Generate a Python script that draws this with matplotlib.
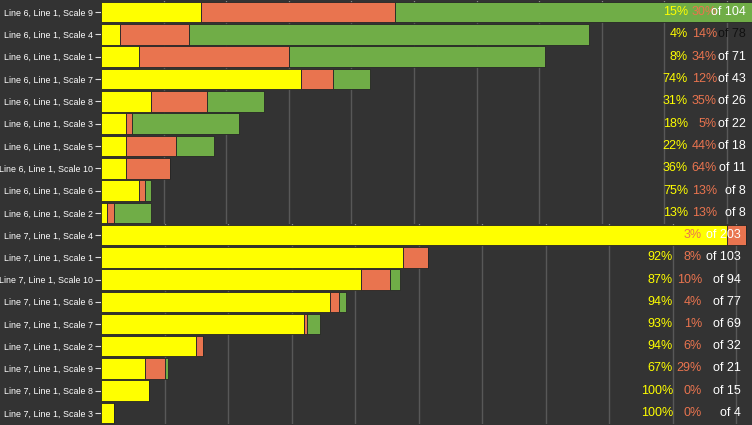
import matplotlib
matplotlib.use("Agg")
import matplotlib.pyplot as plt
import matplotlib.transforms as mtransforms

plt.rcParams['font.family'] = ['Liberation Sans', 'DejaVu Sans']

# Line 6 group
top_labels = ["Line 6, Line 1, Scale 9", "Line 6, Line 1, Scale 4", "Line 6, Line 1, Scale 1",
              "Line 6, Line 1, Scale 7", "Line 6, Line 1, Scale 8", "Line 6, Line 1, Scale 3",
              "Line 6, Line 1, Scale 5", "Line 6, Line 1, Scale 10", "Line 6, Line 1, Scale 6",
              "Line 6, Line 1, Scale 2"]
top_yellow = [16, 3, 6, 32, 8, 4, 4, 4, 6, 1]
top_orange = [31, 11, 24, 5, 9, 1, 8, 7, 1, 1]
top_green = [57, 64, 41, 6, 9, 17, 6, 0, 1, 6]

# Line 7 group
bot_labels = ["Line 7, Line 1, Scale 4", "Line 7, Line 1, Scale 1", "Line 7, Line 1, Scale 10",
              "Line 7, Line 1, Scale 6", "Line 7, Line 1, Scale 7", "Line 7, Line 1, Scale 2",
              "Line 7, Line 1, Scale 9", "Line 7, Line 1, Scale 8", "Line 7, Line 1, Scale 3"]
bot_yellow = [197, 95, 82, 72, 64, 30, 14, 15, 4]
bot_orange = [6, 8, 9, 3, 1, 2, 6, 0, 0]
bot_green = [0, 0, 3, 2, 4, 0, 1, 0, 0]

BG = '#333333'
YEL = '#ffff00'
ORA = '#e9744f'
GRN = '#70ad47'


def pct(v, t):
    return "%d%%" % int(100.0 * v / t + 0.5)


def draw_group(ax, labels, yel, ora, grn, xmax, step, cols, of_colors):
    ax.set_facecolor(BG)
    y = list(range(len(labels)))
    tot = [a + b + c for a, b, c in zip(yel, ora, grn)]
    left2 = [a + b for a, b in zip(yel, ora)]
    kw = dict(height=0.92, edgecolor='#262626', linewidth=0.6, zorder=2)
    ax.barh(y, yel, color=YEL, **kw)
    ax.barh(y, ora, left=yel, color=ORA, **kw)
    ax.barh(y, grn, left=left2, color=GRN, **kw)

    ax.set_xlim(0, xmax)
    ax.set_ylim(len(labels) - 0.5, -0.5)
    ax.set_xticks(range(step, int(xmax) + 1, step))
    ax.xaxis.tick_top()
    ax.tick_params(axis='x', direction='in', length=2, color='#bbbbbb', labeltop=False, labelbottom=False)
    ax.grid(axis='x', color='#585858', linewidth=1)
    ax.set_axisbelow(True)
    ax.set_yticks(y)
    ax.set_yticklabels(labels, fontsize=6.4, color='white')
    ax.tick_params(axis='y', length=4, width=0.8, color='#dddddd', pad=1.5)
    for s in ax.spines.values():
        s.set_visible(False)

    # percentages and totals on the right
    tr = mtransforms.blended_transform_factory(ax.transAxes, ax.transData)
    for i in range(len(labels)):
        ax.text(cols[0], i, pct(yel[i], tot[i]), transform=tr, ha='right', va='center',
                color=YEL, fontsize=9, zorder=5)
        ax.text(cols[1], i, pct(ora[i], tot[i]), transform=tr, ha='right', va='center',
                color=ORA, fontsize=9, zorder=5)
        ax.text(cols[2], i, "of %d" % tot[i], transform=tr, ha='right', va='center',
                color=of_colors[i], fontsize=9, zorder=5)


fig = plt.figure(figsize=(7.52, 4.25), dpi=100)
fig.patch.set_facecolor(BG)
ax1 = fig.add_axes([101 / 752, 201 / 425, 651 / 752, 223 / 425])
ax2 = fig.add_axes([101 / 752, 1 / 425, 651 / 752, 200 / 425])

top_of_colors = ['white', '#111111'] + ['white'] * 8
draw_group(ax1, top_labels, top_yellow, top_orange, top_green, 104, 10,
           (0.9017, 0.9462, 0.9908), top_of_colors)
draw_group(ax2, bot_labels, bot_yellow, bot_orange, bot_green, 205, 20,
           (0.8786, 0.9232, 0.9831), ['white'] * 9)

fig.savefig('out.png', dpi=100, facecolor=BG)
